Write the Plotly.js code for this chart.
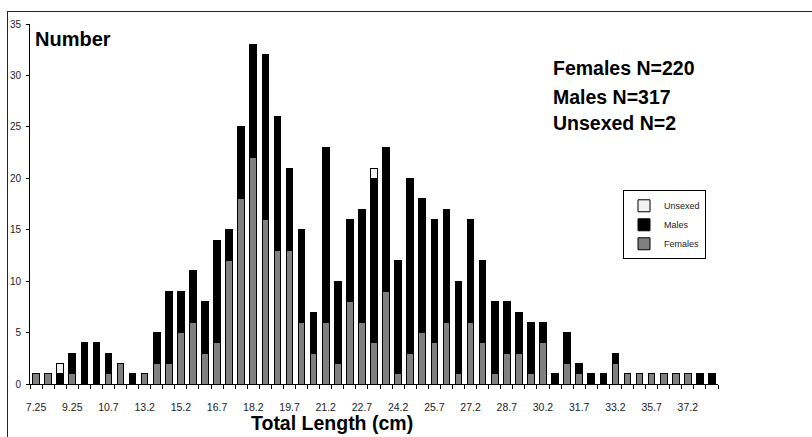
<!DOCTYPE html>
<html>
<head>
<meta charset="utf-8">
<script src="https://cdn.plot.ly/plotly-3.0.1.min.js"></script>
<style>
  html, body { margin: 0; padding: 0; background: #fff; }
  #wrap { position: relative; width: 812px; height: 437px; overflow: hidden; }
  #chart { position: absolute; left: 0; top: 0; width: 812px; height: 437px; }
  #frame { position: absolute; left: 7px; top: 11px; width: 900px; height: 500px;
           border-left: 1.5px solid #222; border-top: 1.5px solid #222; pointer-events: none; }
</style>
</head>
<body>
<div id="wrap">
  <div id="chart"></div>
  <div id="frame"></div>
</div>
<script>
// Length classes (cm), in plotting order
const lengthClasses = [
  "7.25", "7.75", "8.25", "9.25", "9.75", "10.2", "10.7", "11.2", "12.2", "13.2",
  "13.7", "14.7", "15.2", "15.7", "16.2", "16.7", "17.2", "17.7", "18.2", "18.7",
  "19.2", "19.7", "20.2", "20.7", "21.2", "21.7", "22.2", "22.7", "23.2", "23.7",
  "24.2", "24.7", "25.2", "25.7", "26.2", "26.7", "27.2", "27.7", "28.2", "28.7",
  "29.2", "29.7", "30.2", "30.7", "31.2", "31.7", "32.2", "32.7", "33.2", "34.2",
  "35.2", "35.7", "36.2", "36.7", "37.2", "37.7", "38.2"
];

// Counts per length class
const females = [
  1, 1, 0, 1, 0, 0, 1, 2, 0, 1,
  2, 2, 5, 6, 3, 4, 12, 18, 22, 16,
  13, 13, 6, 3, 6, 2, 8, 6, 4, 9,
  1, 3, 5, 4, 6, 1, 6, 4, 1, 3,
  3, 1, 4, 0, 2, 1, 0, 0, 2, 1,
  1, 1, 1, 1, 1, 0, 0
];
const males = [
  0, 0, 1, 2, 4, 4, 2, 0, 1, 0,
  3, 7, 4, 5, 5, 10, 3, 7, 11, 16,
  13, 8, 9, 4, 17, 8, 8, 11, 16, 14,
  11, 17, 13, 12, 11, 9, 10, 8, 7, 5,
  4, 5, 2, 1, 3, 1, 1, 1, 1, 0,
  0, 0, 0, 0, 0, 1, 1
];
const unsexed = [
  0, 0, 1, 0, 0, 0, 0, 0, 0, 0,
  0, 0, 0, 0, 0, 0, 0, 0, 0, 0,
  0, 0, 0, 0, 0, 0, 0, 0, 1, 0,
  0, 0, 0, 0, 0, 0, 0, 0, 0, 0,
  0, 0, 0, 0, 0, 0, 0, 0, 0, 0,
  0, 0, 0, 0, 0, 0, 0
];

// Classes that carry a label on the x axis
const tickLabels = [
  "7.25", "9.25", "10.7", "13.2", "15.2", "16.7", "18.2", "19.7", "21.2", "22.7",
  "24.2", "25.7", "27.2", "28.7", "30.2", "31.7", "33.2", "35.7", "37.2"
];

const sampleSizes = ["Females N=220", "Males N=317", "Unsexed N=2"];

// empty classes are left out so no zero-height outline is drawn
const clean = arr => arr.map(v => (v === 0 ? null : v));

const outline = { color: "#000", width: 1 };
const traces = [
  { type: "bar", name: "Females", x: lengthClasses, y: clean(females),
    marker: { color: "#808080", line: outline } },
  { type: "bar", name: "Males", x: lengthClasses, y: clean(males),
    marker: { color: "#000000", line: outline } },
  { type: "bar", name: "Unsexed", x: lengthClasses, y: clean(unsexed),
    marker: { color: "#f2f2f2", line: outline } }
];

const tickText = lengthClasses.map(c => (tickLabels.includes(c) ? c : ""));

const plotL = 30, plotR = 718, plotT = 23.5, plotB = 384;
const px = x => (x - plotL) / (plotR - plotL);
const py = y => (plotB - y) / (plotB - plotT);

const txtFont = { family: "Liberation Sans, Arial, sans-serif", color: "#000" };

const annotations = [
  { text: "<b>Number</b>", x: px(33), y: py(39), xanchor: "left", yanchor: "middle",
    font: Object.assign({ size: 20 }, txtFont) },
  { text: "<b>Total Length (cm)</b>", x: px(332), y: py(423), xanchor: "center", yanchor: "middle",
    font: Object.assign({ size: 19.5 }, txtFont) }
];
const nY = [68, 97, 123];
sampleSizes.forEach((s, i) => annotations.push({
  text: "<b>" + s + "</b>", x: px(551), y: py(nY[i]), xanchor: "left", yanchor: "middle",
  font: Object.assign({ size: 19.5 }, txtFont)
}));
annotations.forEach(a => { a.xref = "paper"; a.yref = "paper"; a.showarrow = false; });

const layout = {
  width: 812, height: 437,
  margin: { l: plotL, r: 812 - plotR, t: plotT, b: 437 - plotB, pad: 0 },
  paper_bgcolor: "#fff", plot_bgcolor: "#fff",
  barmode: "stack", bargap: 0.45,
  font: { family: "Liberation Sans, Arial, sans-serif", size: 10, color: "#222" },
  xaxis: {
    type: "category", categoryorder: "array", categoryarray: lengthClasses,
    range: [-0.5, lengthClasses.length - 0.5],
    tickmode: "array", tickvals: lengthClasses, ticktext: tickText, tickangle: 0,
    tickson: "boundaries", ticks: "outside", ticklen: 4, tickcolor: "#000", tickwidth: 1,
    ticklabelstandoff: 13,
    showline: true, linecolor: "#000", linewidth: 1,
    showgrid: false, zeroline: false, fixedrange: true,
    tickfont: { size: 10.5, color: "#222" }
  },
  yaxis: {
    range: [0, 35], tickmode: "linear", tick0: 0, dtick: 5,
    ticks: "outside", ticklen: 3, tickcolor: "#000", tickwidth: 1,
    showline: true, linecolor: "#000", linewidth: 1,
    showgrid: false, zeroline: false, fixedrange: true,
    ticklabelstandoff: 3,
    tickfont: { size: 10, color: "#222" }
  },
  legend: {
    x: px(623), y: py(190), xanchor: "left", yanchor: "top",
    traceorder: "reversed", bordercolor: "#000", borderwidth: 1, bgcolor: "#fff",
    font: { size: 9, color: "#222" }, itemwidth: 30, tracegroupgap: 0
  },
  annotations: annotations,
  showlegend: true
};

Plotly.newPlot("chart", traces, layout, { displayModeBar: false, staticPlot: true });
</script>
</body>
</html>
